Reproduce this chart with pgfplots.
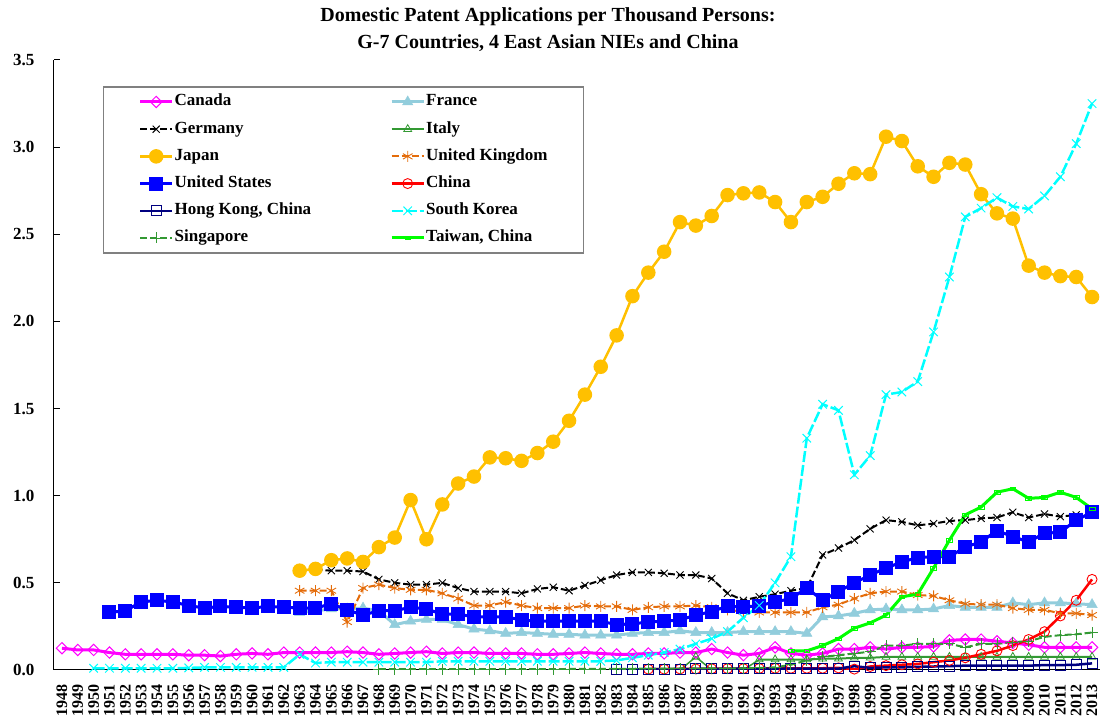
\documentclass[border=0pt]{standalone}
\usepackage{fontspec}
\setmainfont{Liberation Serif}
\usepackage{pgfplots}
\pgfplotsset{compat=1.18}
\definecolor{cacol}{HTML}{FF00FF}
\definecolor{frcol}{HTML}{92CDDC}
\definecolor{itcol}{HTML}{339933}
\definecolor{jpcol}{HTML}{FFC000}
\definecolor{ukcol}{HTML}{E46C0A}
\definecolor{uscol}{HTML}{0000FF}
\definecolor{cncol}{HTML}{FF0000}
\definecolor{hkcol}{HTML}{000080}
\definecolor{krcol}{HTML}{00FFFF}
\definecolor{sgcol}{HTML}{339933}
\definecolor{twcol}{HTML}{00FF00}

\begin{document}
\begin{tikzpicture}
\path[use as bounding box] (0,0) rectangle (1100pt,720pt);
\begin{axis}[
  at={(54pt,50pt)}, anchor=south west,
  scale only axis, width=1046pt, height=610pt,
  xmin=1947.5, xmax=2013.5, ymin=0, ymax=3.5,
  axis x line*=bottom, axis y line*=left,
  axis line style={black, line width=1pt},
  tick align=inside, xtick pos=bottom, ytick pos=left,
  xtick={1948,...,2013},
  minor x tick num=1,
  major x tick style={draw=none},
  minor x tick style={black, line width=0.8pt},
  minor tick length=6pt,
  ytick={0,0.5,...,3.5},
  major tick length=6pt,
  y tick style={black, line width=1pt},
  /pgf/number format/assume math mode=true,
  tick label style={font=\bfseries\fontsize{17}{17}\selectfont},
  xticklabel style={rotate=90, anchor=east, font=\bfseries\fontsize{16}{16}\selectfont,
    /pgf/number format/.cd, fixed, precision=0, 1000 sep={}},
  yticklabel style={/pgf/number format/.cd, fixed, fixed zerofill, precision=1},
  xticklabel shift=11pt, yticklabel shift=16pt,
  legend columns=2,
  legend cell align=left,
  legend image code/.code={\draw[mark repeat=2,mark phase=2] plot coordinates {(0pt,0pt) (16pt,0pt) (32pt,0pt)};},
  legend style={at={(0.0468,0.957)}, anchor=north west, draw=gray, line width=1.5pt,
    inner xsep=35pt, inner ysep=5pt, row sep=7.2pt,
    font=\bfseries\fontsize{17}{17}\selectfont,
    nodes={inner xsep=1pt, inner ysep=2pt, text height=12pt, text depth=4pt},
    /tikz/every even column/.append style={column sep=78pt}},
]
% Canada
\addplot[cacol, line width=3pt, mark=square, mark size=4pt, mark options={solid, rotate=45, fill=white, line width=1pt}] coordinates {
(1948,0.125)(1949,0.115)(1950,0.115)(1951,0.10)(1952,0.09)(1953,0.09)(1954,0.09)(1955,0.09)(1956,0.085)(1957,0.085)(1958,0.08)(1959,0.09)(1960,0.095)(1961,0.09)(1962,0.10)(1963,0.10)(1964,0.10)(1965,0.10)(1966,0.105)(1967,0.10)(1968,0.09)(1969,0.095)(1970,0.10)(1971,0.105)(1972,0.095)(1973,0.10)(1974,0.10)(1975,0.095)(1976,0.095)(1977,0.095)(1978,0.09)(1979,0.09)(1980,0.095)(1981,0.10)(1982,0.095)(1983,0.09)(1984,0.09)(1985,0.095)(1986,0.095)(1987,0.10)(1988,0.10)(1989,0.12)(1990,0.10)(1991,0.085)(1992,0.095)(1993,0.13)(1994,0.095)(1995,0.085)(1996,0.095)(1997,0.12)(1998,0.12)(1999,0.13)(2000,0.12)(2001,0.13)(2002,0.13)(2003,0.135)(2004,0.17)(2005,0.175)(2006,0.175)(2007,0.165)(2008,0.155)(2009,0.145)(2010,0.13)(2011,0.13)(2012,0.13)(2013,0.13)
};
\addlegendentry{Canada}
% France
\addplot[frcol, line width=3pt, mark=triangle*, mark size=6pt, mark options={solid, fill=frcol, line width=0.5pt}] coordinates {
(1963,0.33)(1964,0.34)(1965,0.35)(1966,0.35)(1967,0.355)(1968,0.34)(1969,0.26)(1970,0.28)(1971,0.29)(1972,0.29)(1973,0.26)(1974,0.235)(1975,0.225)(1976,0.21)(1977,0.215)(1978,0.21)(1979,0.205)(1980,0.205)(1981,0.20)(1982,0.20)(1983,0.20)(1984,0.21)(1985,0.215)(1986,0.215)(1987,0.225)(1988,0.215)(1989,0.215)(1990,0.215)(1991,0.22)(1992,0.22)(1993,0.22)(1994,0.22)(1995,0.21)(1996,0.305)(1997,0.31)(1998,0.325)(1999,0.345)(2000,0.35)(2001,0.345)(2002,0.345)(2003,0.35)(2004,0.37)(2005,0.36)(2006,0.36)(2007,0.36)(2008,0.385)(2009,0.375)(2010,0.385)(2011,0.385)(2012,0.38)(2013,0.375)
};
\addlegendentry{France}
% Germany
\addplot[black, line width=2pt, dash pattern=on 7pt off 3pt, mark=x, mark size=5pt, mark options={solid, line width=0.9pt}] coordinates {
(1964,0.575)(1965,0.57)(1966,0.57)(1967,0.565)(1968,0.52)(1969,0.50)(1970,0.49)(1971,0.49)(1972,0.50)(1973,0.47)(1974,0.45)(1975,0.45)(1976,0.45)(1977,0.44)(1978,0.465)(1979,0.475)(1980,0.455)(1981,0.485)(1982,0.515)(1983,0.545)(1984,0.56)(1985,0.56)(1986,0.555)(1987,0.545)(1988,0.545)(1989,0.525)(1990,0.44)(1991,0.40)(1992,0.42)(1993,0.435)(1994,0.455)(1995,0.47)(1996,0.66)(1997,0.70)(1998,0.745)(1999,0.81)(2000,0.86)(2001,0.85)(2002,0.83)(2003,0.84)(2004,0.855)(2005,0.86)(2006,0.87)(2007,0.875)(2008,0.905)(2009,0.875)(2010,0.895)(2011,0.88)(2012,0.89)(2013,0.905)
};
\addlegendentry{Germany}
% Italy
\addplot[itcol, line width=2pt, mark=triangle, mark size=4.5pt, mark options={solid, fill=white, line width=0.8pt}] coordinates {
(1992,0.06)(1993,0.06)(1994,0.06)(1995,0.06)(1996,0.065)(1997,0.065)(1998,0.07)(1999,0.07)(2000,0.075)(2001,0.075)(2002,0.075)(2003,0.075)(2004,0.075)(2005,0.075)(2006,0.075)(2007,0.075)(2008,0.075)(2009,0.075)(2010,0.075)(2011,0.075)(2012,0.075)(2013,0.075)
};
\addlegendentry{Italy}
\addplot[itcol, line width=1.5pt, mark=triangle, mark size=4.5pt, mark indices={2}, mark options={solid, fill=white, line width=0.8pt}, forget plot] coordinates {
(1987,0)(1988,0.075)(1989,0)(1990,0)(1991,0)(1992,0.06)
};
% Japan
\addplot[jpcol, line width=2.5pt, mark=*, mark size=6pt, mark options={solid, fill=jpcol}] coordinates {
(1963,0.57)(1964,0.58)(1965,0.63)(1966,0.64)(1967,0.62)(1968,0.705)(1969,0.76)(1970,0.975)(1971,0.75)(1972,0.95)(1973,1.07)(1974,1.11)(1975,1.22)(1976,1.215)(1977,1.20)(1978,1.245)(1979,1.31)(1980,1.43)(1981,1.58)(1982,1.74)(1983,1.92)(1984,2.145)(1985,2.28)(1986,2.40)(1987,2.57)(1988,2.55)(1989,2.605)(1990,2.725)(1991,2.735)(1992,2.74)(1993,2.685)(1994,2.57)(1995,2.685)(1996,2.715)(1997,2.79)(1998,2.85)(1999,2.845)(2000,3.06)(2001,3.035)(2002,2.89)(2003,2.83)(2004,2.91)(2005,2.90)(2006,2.73)(2007,2.62)(2008,2.59)(2009,2.32)(2010,2.28)(2011,2.26)(2012,2.255)(2013,2.14)
};
\addlegendentry{Japan}
% United Kingdom
\addplot[ukcol, line width=2pt, dash pattern=on 7pt off 3pt, mark=asterisk, mark size=5.5pt, mark options={solid, line width=0.9pt}] coordinates {
(1963,0.455)(1964,0.455)(1965,0.455)(1966,0.275)(1967,0.47)(1968,0.49)(1969,0.47)(1970,0.46)(1971,0.46)(1972,0.44)(1973,0.41)(1974,0.37)(1975,0.37)(1976,0.39)(1977,0.37)(1978,0.355)(1979,0.355)(1980,0.355)(1981,0.37)(1982,0.365)(1983,0.365)(1984,0.345)(1985,0.36)(1986,0.365)(1987,0.365)(1988,0.37)(1989,0.36)(1990,0.345)(1991,0.335)(1992,0.33)(1993,0.33)(1994,0.33)(1995,0.33)(1996,0.36)(1997,0.375)(1998,0.41)(1999,0.44)(2000,0.45)(2001,0.45)(2002,0.43)(2003,0.425)(2004,0.40)(2005,0.38)(2006,0.375)(2007,0.375)(2008,0.355)(2009,0.345)(2010,0.345)(2011,0.325)(2012,0.325)(2013,0.315)
};
\addlegendentry{United Kingdom}
% United States
\addplot[uscol, line width=3pt, mark=square*, mark size=5.5pt, mark options={solid, fill=uscol}] coordinates {
(1951,0.33)(1952,0.34)(1953,0.39)(1954,0.40)(1955,0.39)(1956,0.37)(1957,0.355)(1958,0.365)(1959,0.36)(1960,0.355)(1961,0.365)(1962,0.36)(1963,0.355)(1964,0.355)(1965,0.38)(1966,0.345)(1967,0.315)(1968,0.34)(1969,0.34)(1970,0.36)(1971,0.35)(1972,0.32)(1973,0.32)(1974,0.305)(1975,0.305)(1976,0.305)(1977,0.287)(1978,0.28)(1979,0.28)(1980,0.28)(1981,0.28)(1982,0.28)(1983,0.26)(1984,0.265)(1985,0.275)(1986,0.28)(1987,0.287)(1988,0.315)(1989,0.335)(1990,0.367)(1991,0.36)(1992,0.37)(1993,0.39)(1994,0.41)(1995,0.47)(1996,0.40)(1997,0.45)(1998,0.50)(1999,0.545)(2000,0.585)(2001,0.62)(2002,0.645)(2003,0.65)(2004,0.65)(2005,0.705)(2006,0.735)(2007,0.80)(2008,0.765)(2009,0.735)(2010,0.785)(2011,0.79)(2012,0.86)(2013,0.905)
};
\addlegendentry{United States}
% China
\addplot[cncol, line width=2.5pt, mark=o, mark size=5pt, mark options={solid, fill=white, line width=0.9pt}] coordinates {
(1985,0.005)(1986,0.005)(1987,0.006)(1988,0.006)(1989,0.007)(1990,0.008)(1991,0.008)(1992,0.009)(1993,0.01)(1994,0.01)(1995,0.01)(1996,0.01)(1997,0.012)(1998,0.005)(1999,0.02)(2000,0.025)(2001,0.03)(2002,0.035)(2003,0.045)(2004,0.055)(2005,0.07)(2006,0.09)(2007,0.11)(2008,0.14)(2009,0.175)(2010,0.22)(2011,0.31)(2012,0.40)(2013,0.52)
};
\addlegendentry{China}
% Hong Kong
\addplot[hkcol, line width=2.5pt, mark=square, mark size=5pt, mark options={solid, fill=white, line width=1pt}] coordinates {
(1983,0.002)(1984,0.002)(1985,0.005)(1986,0.005)(1987,0.005)(1988,0.006)(1989,0.006)(1990,0.007)(1991,0.008)(1992,0.008)(1993,0.008)(1994,0.008)(1995,0.008)(1996,0.008)(1997,0.008)(1998,0.022)(1999,0.012)(2000,0.015)(2001,0.015)(2002,0.018)(2003,0.02)(2004,0.022)(2005,0.025)(2006,0.025)(2007,0.025)(2008,0.025)(2009,0.025)(2010,0.028)(2011,0.028)(2012,0.03)(2013,0.038)
};
\addlegendentry{Hong Kong, China}
% South Korea
\addplot[krcol, line width=2.5pt, dash pattern=on 11pt off 3pt, mark=x, mark size=6pt, mark options={solid, line width=1pt}] coordinates {
(1950,0.01)(1951,0.01)(1952,0.01)(1953,0.01)(1954,0.01)(1955,0.01)(1956,0.012)(1957,0.015)(1958,0.015)(1959,0.015)(1960,0.015)(1961,0.015)(1962,0.015)(1963,0.09)(1964,0.04)(1965,0.045)(1966,0.045)(1967,0.045)(1968,0.045)(1969,0.045)(1970,0.045)(1971,0.045)(1972,0.05)(1973,0.05)(1974,0.05)(1975,0.05)(1976,0.05)(1977,0.05)(1978,0.05)(1979,0.05)(1980,0.05)(1981,0.05)(1982,0.05)(1983,0.055)(1984,0.07)(1985,0.085)(1986,0.10)(1987,0.12)(1988,0.15)(1989,0.18)(1990,0.22)(1991,0.30)(1992,0.37)(1993,0.50)(1994,0.65)(1995,1.33)(1996,1.525)(1997,1.49)(1998,1.12)(1999,1.23)(2000,1.58)(2001,1.595)(2002,1.655)(2003,1.94)(2004,2.255)(2005,2.60)(2006,2.65)(2007,2.71)(2008,2.66)(2009,2.645)(2010,2.72)(2011,2.83)(2012,3.02)(2013,3.25)
};
\addlegendentry{South Korea}
% Singapore
\addplot[sgcol, line width=2pt, dash pattern=on 7pt off 3pt, mark=+, mark size=5.5pt, mark options={solid, line width=0.9pt}] coordinates {
(1968,0.005)(1969,0.005)(1970,0.005)(1971,0.005)(1972,0.005)(1973,0.005)(1974,0.005)(1975,0.005)(1976,0.005)(1977,0.005)(1978,0.005)(1979,0.005)(1980,0.006)(1981,0.006)(1982,0.006)(1983,0.007)(1984,0.007)(1985,0.008)(1986,0.008)(1987,0.009)(1988,0.009)(1989,0.01)(1990,0.01)(1991,0.01)(1992,0.012)(1993,0.015)(1994,0.03)(1995,0.055)(1996,0.075)(1997,0.085)(1998,0.095)(1999,0.105)(2000,0.14)(2001,0.14)(2002,0.15)(2003,0.15)(2004,0.15)(2005,0.13)(2006,0.15)(2007,0.15)(2008,0.16)(2009,0.165)(2010,0.19)(2011,0.20)(2012,0.205)(2013,0.215)
};
\addlegendentry{Singapore}
% Taiwan
\addplot[twcol, line width=3pt, mark=square, mark size=1.8pt, mark options={solid, fill=white, line width=0.6pt, xscale=1.6}] coordinates {
(1994,0.11)(1995,0.11)(1996,0.14)(1997,0.18)(1998,0.24)(1999,0.27)(2000,0.315)(2001,0.42)(2002,0.435)(2003,0.585)(2004,0.745)(2005,0.89)(2006,0.935)(2007,1.02)(2008,1.04)(2009,0.985)(2010,0.99)(2011,1.02)(2012,0.99)(2013,0.925)
};
\addlegendentry{Taiwan, China}
\end{axis}
\node[font=\bfseries\fontsize{20}{27}\selectfont, align=center] at (548pt,690pt)
  {Domestic Patent Applications per Thousand Persons:\\G-7 Countries, 4 East Asian NIEs and China};
\end{tikzpicture}
\end{document}
